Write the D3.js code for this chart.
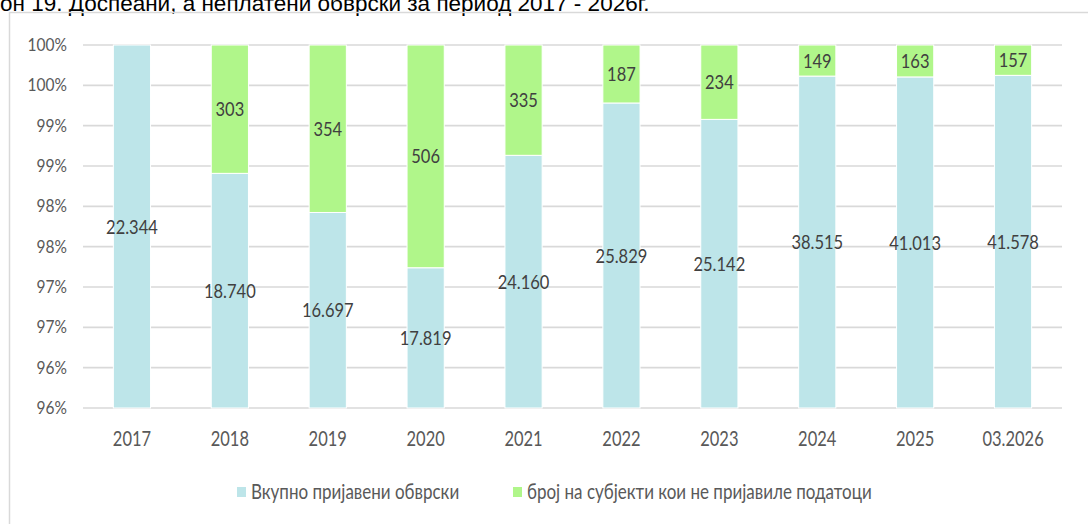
<!DOCTYPE html>
<html>
<head>
<meta charset="utf-8">
<script src="https://cdn.jsdelivr.net/npm/d3@7"></script>
<style>
  body { margin: 0; background: #fff; }
  svg { display: block; }
</style>
</head>
<body>
<svg id="chart" width="1088" height="524"></svg>
<script>
// categories and values
const years = ["2017", "2018", "2019", "2020", "2021", "2022", "2023", "2024", "2025", "03.2026"];
const reported = [22344, 18740, 16697, 17819, 24160, 25829, 25142, 38515, 41013, 41578];
const notReported = [0, 303, 354, 506, 335, 187, 234, 149, 163, 157];
const yTicks = [95.5, 96, 96.5, 97, 97.5, 98, 98.5, 99, 99.5, 100];
const seriesNames = ["Вкупно пријавени обврски", "број на субјекти кои не пријавиле податоци"];

const colors = ["#bde5e9", "#b0f68a"];
const font = "Lato, 'Open Sans', sans-serif";

const svg = d3.select("#chart");
const W = 1088, H = 524;
const margin = { left: 83, right: 26, top: 45, bottom: 116 };

const mk = d3.formatLocale({ decimal: ",", thousands: ".", grouping: [3], currency: ["", ""] });
const fmt = mk.format(",d");

// the source picture is stretched vertically, so text is drawn taller than wide
const stretch = function(sel, k) {
  sel.each(function() {
    const t = d3.select(this);
    const tx = +t.attr("x") || 0;
    const ty = +t.attr("y") || 0;
    t.attr("x", 0).attr("y", 0)
      .attr("transform", `translate(${tx},${ty}) scale(1,${k})`);
  });
};

// title (cut off at top like the source)
svg.append("text")
  .attr("x", 0).attr("y", 11)
  .attr("font-family", "'Liberation Sans', Arial, sans-serif")
  .attr("font-size", 22.5)
  .attr("fill", "#000")
  .text("он 19. Доспеани, а неплатени обврски за период 2017 - 2026г.");

// chart frame
svg.append("rect")
  .attr("x", 9.5).attr("y", 12.5)
  .attr("width", W + 20).attr("height", H + 20)
  .attr("fill", "none")
  .attr("stroke", "#d9d9d9")
  .attr("stroke-width", 1.5);

const x = d3.scaleBand()
  .domain(years)
  .range([margin.left, W - margin.right])
  .paddingInner(0.62)
  .paddingOuter(0.31);

const y = d3.scaleLinear()
  .domain([95.5, 100])
  .range([408, margin.top])
  .clamp(true);

// gridlines
svg.append("g")
  .selectAll("line")
  .data(yTicks)
  .join("line")
  .attr("x1", margin.left).attr("x2", W - margin.right)
  .attr("y1", d => y(d)).attr("y2", d => y(d))
  .attr("stroke", "#d9d9d9")
  .attr("stroke-width", 1.6);

// y axis labels (rounded like Excel's 0% format)
const yAxis = d3.axisLeft(y)
  .tickValues(yTicks)
  .tickSize(0)
  .tickPadding(0)
  .tickFormat(d => Math.round(d + 1e-9) + "%");

svg.append("g")
  .attr("transform", "translate(67,0)")
  .call(yAxis)
  .call(g => g.select(".domain").remove())
  .selectAll("text")
  .attr("font-family", font)
  .attr("font-size", 15.5)
  .attr("fill", "#595959")
  .call(stretch, 1.08);

const rows = years.map((yr, i) => {
  const total = reported[i] + notReported[i];
  const p = reported[i] / total * 100;
  return { yr, rep: reported[i], not: notReported[i], p };
});

// blue segment
svg.append("g")
  .selectAll("rect")
  .data(rows)
  .join("rect")
  .attr("x", d => x(d.yr))
  .attr("width", x.bandwidth())
  .attr("y", d => y(d.p))
  .attr("height", d => y(95.5) - y(d.p))
  .attr("fill", colors[0])
  .attr("stroke", "#fff")
  .attr("stroke-width", 1);

// green segment
svg.append("g")
  .selectAll("rect")
  .data(rows.filter(d => d.not > 0))
  .join("rect")
  .attr("x", d => x(d.yr))
  .attr("width", x.bandwidth())
  .attr("y", y(100))
  .attr("height", d => y(d.p) - y(100))
  .attr("fill", colors[1])
  .attr("stroke", "#fff")
  .attr("stroke-width", 1);

// data labels
const labels = svg.append("g")
  .attr("font-family", font)
  .attr("font-size", 16.5)
  .attr("fill", "#404040")
  .attr("text-anchor", "middle");

labels.selectAll("text.rep")
  .data(rows)
  .join("text")
  .attr("class", "rep")
  .attr("x", d => x(d.yr) + x.bandwidth() / 2)
  .attr("y", d => (y(d.p) + y(95.5)) / 2)
  .attr("dy", "0.35em")
  .text(d => fmt(d.rep))
  .call(stretch, 1.22);

labels.selectAll("text.not")
  .data(rows.filter(d => d.not > 0))
  .join("text")
  .attr("class", "not")
  .attr("x", d => x(d.yr) + x.bandwidth() / 2)
  .attr("y", d => (y(d.p) + y(100)) / 2)
  .attr("dy", "0.35em")
  .text(d => fmt(d.not))
  .call(stretch, 1.22);

// x axis labels
const xAxis = d3.axisBottom(x).tickSize(0).tickPadding(0);
svg.append("g")
  .attr("transform", "translate(0,438)")
  .call(xAxis)
  .call(g => g.select(".domain").remove())
  .selectAll("text")
  .attr("font-family", font)
  .attr("font-size", 16.5)
  .attr("fill", "#595959")
  .attr("dy", "0.35em")
  .call(stretch, 1.32);

// legend
const legend = svg.append("g")
  .attr("font-family", font)
  .attr("font-size", 17)
  .attr("fill", "#595959");

const legendX = [237, 513];
seriesNames.forEach((name, i) => {
  const g = legend.append("g").attr("transform", `translate(${legendX[i]},492)`);
  g.append("rect")
    .attr("x", 0).attr("y", -5)
    .attr("width", 9).attr("height", 10)
    .attr("fill", colors[i]);
  g.append("text")
    .attr("x", 14).attr("y", 0)
    .attr("dy", "0.35em")
    .text(name)
    .call(stretch, 1.25);
});
</script>
</body>
</html>
